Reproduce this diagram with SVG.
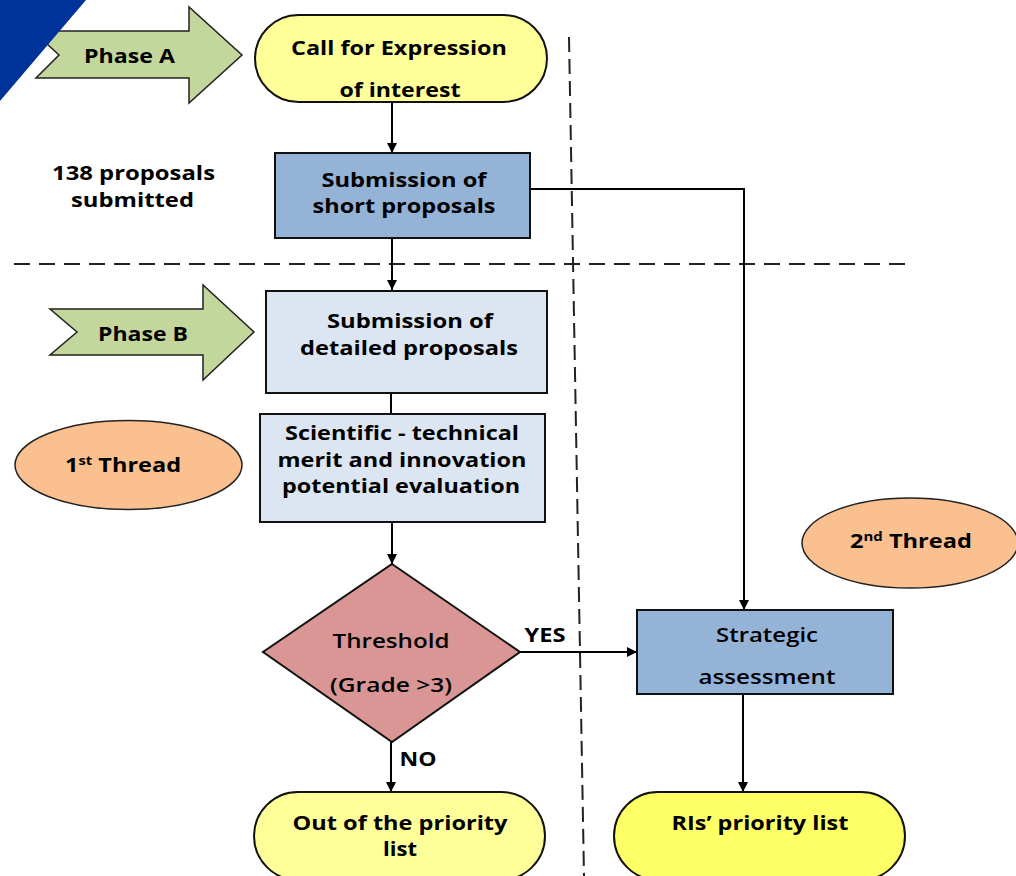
<svg xmlns="http://www.w3.org/2000/svg" width="1016" height="876" viewBox="0 0 1016 876">
<defs>
<marker id="ah" viewBox="0 0 10 10" refX="10" refY="5" markerWidth="10" markerHeight="10" markerUnits="userSpaceOnUse" orient="auto">
<path d="M0,0 L10,5 L0,10 z" fill="#000"/>
</marker>
<style>
.t{font-family:"Open Sans","Liberation Sans",sans-serif;font-size:19px;font-weight:bold;fill:#000;text-anchor:middle}
.n{font-weight:600}
.sh{stroke:#111;stroke-width:2}
.ln{stroke:#000;stroke-width:2;fill:none}
.ds{stroke:#222;stroke-width:2;fill:none}
.sup{font-size:12px}
</style>
</defs>
<rect width="1016" height="876" fill="#fff"/>

<g id="dividers">
<line class="ds" x1="14" y1="264" x2="907" y2="264" stroke-dasharray="16 9"/>
<line class="ds" x1="569" y1="37" x2="584" y2="876" stroke-dasharray="15 7"/>
</g>

<g id="connectors">
<line class="ln" x1="392" y1="102" x2="392" y2="153" marker-end="url(#ah)"/>
<line class="ln" x1="392" y1="238" x2="392" y2="290" marker-end="url(#ah)"/>
<polyline class="ln" points="530,189 744,189 744,610" marker-end="url(#ah)"/>
<line class="ln" x1="391" y1="393" x2="391" y2="414"/>
<line class="ln" x1="392" y1="522" x2="392" y2="564" marker-end="url(#ah)"/>
<line class="ln" x1="520" y1="652" x2="637" y2="652" marker-end="url(#ah)"/>
<line class="ln" x1="391" y1="742" x2="391" y2="792" marker-end="url(#ah)"/>
<line class="ln" x1="743" y1="694" x2="743" y2="792" marker-end="url(#ah)"/>
<text class="t" x="545" y="642" textLength="41" lengthAdjust="spacingAndGlyphs">YES</text>
<text class="t" x="418" y="766" textLength="37" lengthAdjust="spacingAndGlyphs">NO</text>
</g>

<g id="phaseA">
<polygon points="33,31 189,31 189,7 242,55 189,103 189,78 36,78 59,55" fill="#C3D69B" stroke="#222" stroke-width="1.5"/>
<text class="t" x="129.5" y="63" textLength="91" lengthAdjust="spacingAndGlyphs">Phase A</text>
</g>

<g id="corner">
<polygon points="0,0 86,0 0,101" fill="#003399"/>
</g>

<g id="call">
<rect class="sh" x="255" y="15" width="292" height="87" rx="43.5" ry="43.5" fill="#FFFF99"/>
<text class="t" x="399" y="55" textLength="216" lengthAdjust="spacingAndGlyphs">Call for Expression</text>
<text class="t" x="400" y="97" textLength="121" lengthAdjust="spacingAndGlyphs">of interest</text>
</g>

<g id="count">
<text class="t" x="133.5" y="180" textLength="163" lengthAdjust="spacingAndGlyphs">138 proposals</text>
<text class="t" x="132.5" y="207" textLength="123" lengthAdjust="spacingAndGlyphs">submitted</text>
</g>

<g id="short">
<rect class="sh" x="275" y="153" width="255" height="85" fill="#95B3D7"/>
<text class="t" x="404" y="187" textLength="165" lengthAdjust="spacingAndGlyphs">Submission of</text>
<text class="t" x="404" y="213" textLength="183" lengthAdjust="spacingAndGlyphs">short proposals</text>
</g>

<g id="phaseB">
<polygon points="50,309 203,309 203,285 254,332 203,380 203,355 50,355 77,332" fill="#C3D69B" stroke="#222" stroke-width="1.5"/>
<text class="t" x="143" y="341" textLength="90" lengthAdjust="spacingAndGlyphs">Phase B</text>
</g>

<g id="detailed">
<rect class="sh" x="266" y="291" width="281" height="102" fill="#DCE6F2"/>
<text class="t" x="410" y="328" textLength="166" lengthAdjust="spacingAndGlyphs">Submission of</text>
<text class="t" x="409" y="355" textLength="218" lengthAdjust="spacingAndGlyphs">detailed proposals</text>
</g>

<g id="scientific">
<rect class="sh" x="260" y="414" width="285" height="108" fill="#DCE6F2"/>
<text class="t" x="402" y="440" textLength="234" lengthAdjust="spacingAndGlyphs">Scientific - technical</text>
<text class="t" x="402" y="467" textLength="249" lengthAdjust="spacingAndGlyphs">merit and innovation</text>
<text class="t" x="401" y="493" textLength="238" lengthAdjust="spacingAndGlyphs">potential evaluation</text>
</g>

<g id="thread1">
<ellipse cx="128.5" cy="465" rx="113.5" ry="44.5" fill="#FAC090" stroke="#222" stroke-width="1.5"/>
<text class="t" x="123" y="472" textLength="116" lengthAdjust="spacingAndGlyphs">1<tspan class="sup" dy="-7">st</tspan><tspan dy="7"> Thread</tspan></text>
</g>

<g id="thread2">
<ellipse cx="910" cy="543" rx="108" ry="45" fill="#FAC090" stroke="#222" stroke-width="1.5"/>
<text class="t" x="911" y="548" textLength="122" lengthAdjust="spacingAndGlyphs">2<tspan class="sup" dy="-7">nd</tspan><tspan dy="7"> Thread</tspan></text>
</g>

<g id="threshold">
<polygon class="sh" points="392,564 520,652 392,742 263,652" fill="#D99694" stroke-width="1.5"/>
<text class="t n" x="391" y="648" textLength="117" lengthAdjust="spacingAndGlyphs">Threshold</text>
<text class="t n" x="391" y="692" textLength="122" lengthAdjust="spacingAndGlyphs">(Grade &gt;3)</text>
</g>

<g id="strategic">
<rect class="sh" x="637" y="610" width="256" height="84" fill="#95B3D7"/>
<text class="t n" x="767" y="642" textLength="102" lengthAdjust="spacingAndGlyphs">Strategic</text>
<text class="t n" x="767" y="684" textLength="137" lengthAdjust="spacingAndGlyphs">assessment</text>
</g>

<g id="out">
<rect class="sh" x="254" y="792" width="291" height="88" rx="44" ry="44" fill="#FFFF99"/>
<text class="t" x="400" y="830" textLength="215" lengthAdjust="spacingAndGlyphs">Out of the priority</text>
<text class="t" x="400" y="856" textLength="34" lengthAdjust="spacingAndGlyphs">list</text>
</g>

<g id="priority">
<rect class="sh" x="614" y="792" width="291" height="88" rx="44" ry="44" fill="#FFFF66"/>
<text class="t" x="760" y="830" textLength="177" lengthAdjust="spacingAndGlyphs">RIs’ priority list</text>
</g>
</svg>
